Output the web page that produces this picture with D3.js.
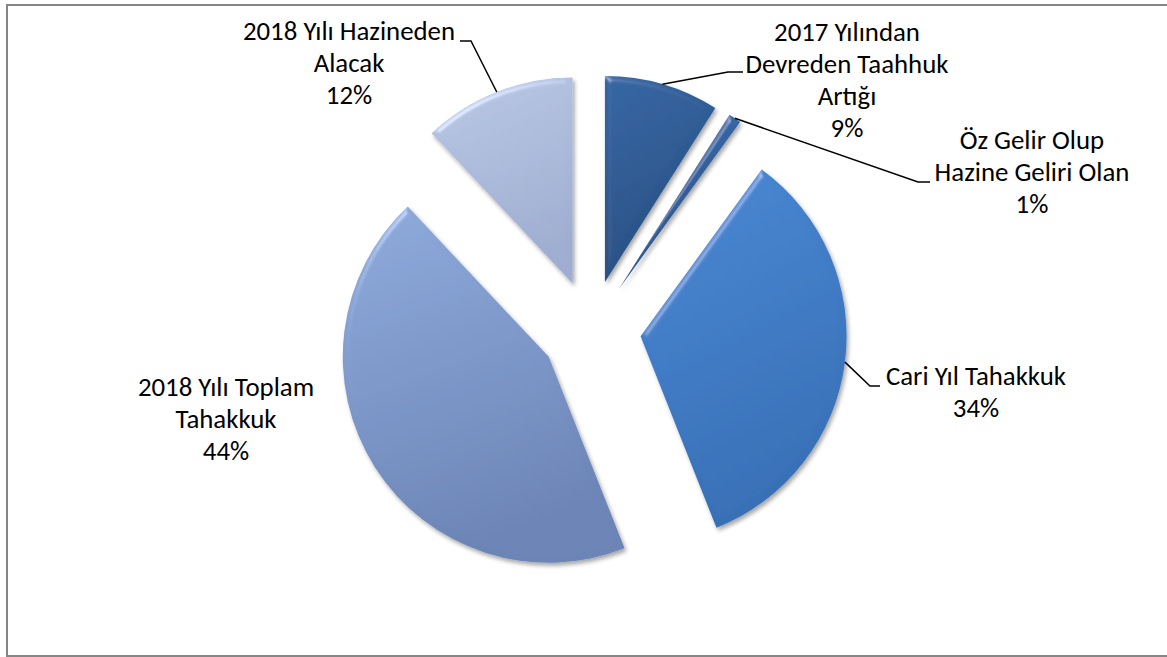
<!DOCTYPE html>
<html>
<head>
<meta charset="utf-8">
<script src="https://cdn.jsdelivr.net/npm/d3@7"></script>
<style>
  body { margin: 0; background: #fff; }
  text { font-family: Carlito, Calibri, Lato, sans-serif; fill: #000; }
</style>
</head>
<body>
<div id="app"></div>
<script>
// slice data, clockwise from 12 o'clock
var categories = [
  ["2017 Yılından", "Devreden Taahhuk", "Artığı"],
  ["Öz Gelir Olup", "Hazine Geliri Olan"],
  ["Cari Yıl Tahakkuk"],
  ["2018 Yılı Toplam", "Tahakkuk"],
  ["2018 Yılı Hazineden", "Alacak"]
];
var values = [9, 1, 34, 44, 12];
var percentLabels = ["9%", "1%", "34%", "44%", "12%"];

// fills: [top, bottom]
var colors = [
  ["#3466a4", "#294f82"],
  ["#3a6cae", "#2a5588"],
  ["#4888d5", "#3870b6"],
  ["#8eabdc", "#6c85b6"],
  ["#bac8e6", "#9faed0"]
];

// label layout: centre x, first baseline, elbow of leader (null = no leader)
var labelLayout = [
  {x: 847, y: 41, elbow: [728, 72], end: [743, 72]},
  {x: 1032, y: 149, elbow: [918, 182], end: [930, 182]},
  {x: 976, y: 385, elbow: [870, 386], end: [880, 386]},
  {x: 226, y: 396, elbow: null},
  {x: 349, y: 40, elbow: [471, 41], end: [460, 41]}
];

var width = 1167, height = 657;
var cx = 591, cy = 330, radius = 206, explode = 50, lineH = 32;

var svg = d3.select("#app").append("svg")
    .attr("width", width)
    .attr("height", height);

var defs = svg.append("defs");

colors.forEach(function(c, i) {
  var g = defs.append("linearGradient")
      .attr("id", "grad" + i)
      .attr("x1", 0).attr("y1", 0).attr("x2", 0.3).attr("y2", 1);
  g.append("stop").attr("offset", "0%").attr("stop-color", c[0]);
  g.append("stop").attr("offset", "100%").attr("stop-color", c[1]);
});

// soft bevel + shadow
var f = defs.append("filter").attr("id", "bevel")
    .attr("x", "-10%").attr("y", "-10%").attr("width", "120%").attr("height", "120%");
f.append("feGaussianBlur").attr("in", "SourceAlpha").attr("stdDeviation", 3).attr("result", "blur");
var spec = f.append("feSpecularLighting").attr("in", "blur")
    .attr("surfaceScale", 4).attr("specularConstant", 0.7)
    .attr("specularExponent", 30).attr("lighting-color", "#ffffff").attr("result", "spec");
spec.append("feDistantLight").attr("azimuth", 235).attr("elevation", 28);
f.append("feComposite").attr("in", "spec").attr("in2", "SourceAlpha").attr("operator", "in").attr("result", "specIn");
f.append("feComposite").attr("in", "SourceGraphic").attr("in2", "specIn")
    .attr("operator", "arithmetic").attr("k1", 0).attr("k2", 1).attr("k3", 0.4).attr("k4", 0).attr("result", "lit");
f.append("feGaussianBlur").attr("in", "SourceAlpha").attr("stdDeviation", 2).attr("result", "sb");
f.append("feOffset").attr("in", "sb").attr("dx", 2).attr("dy", 3).attr("result", "so");
f.append("feComponentTransfer").attr("in", "so").attr("result", "sh")
  .append("feFuncA").attr("type", "linear").attr("slope", 0.35);
var m = f.append("feMerge");
m.append("feMergeNode").attr("in", "sh");
m.append("feMergeNode").attr("in", "lit");

// frame
svg.append("rect")
    .attr("x", 7).attr("y", 5)
    .attr("width", width).attr("height", 651)
    .attr("fill", "none")
    .attr("stroke", "#868686")
    .attr("stroke-width", 2);

var pie = d3.pie().sort(null).value(function(d) { return d; });
var arcs = pie(values);

var arc = d3.arc().innerRadius(0).outerRadius(radius);

function offset(d) {
  var a = (d.startAngle + d.endAngle) / 2;
  return [cx + Math.sin(a) * explode, cy - Math.cos(a) * explode];
}

var g = svg.append("g");

g.selectAll("path.slice")
    .data(arcs)
  .enter().append("path")
    .attr("class", "slice")
    .attr("transform", function(d) { var o = offset(d); return "translate(" + o[0] + "," + o[1] + ")"; })
    .attr("d", arc)
    .attr("fill", function(d, i) { return "url(#grad" + i + ")"; })
    .attr("filter", "url(#bevel)");

// leader lines from the middle of each outer arc
arcs.forEach(function(d, i) {
  var L = labelLayout[i];
  if (!L.elbow) return;
  var o = offset(d), a = (d.startAngle + d.endAngle) / 2;
  var p0 = [o[0] + Math.sin(a) * radius, o[1] - Math.cos(a) * radius];
  svg.append("path")
      .attr("d", d3.line()([p0, L.elbow, L.end]))
      .attr("fill", "none")
      .attr("stroke", "#000")
      .attr("stroke-width", 1.5);
});

// fit font size so "Devreden Taahhuk" is about 203px wide
var probe = svg.append("text").style("font-size", "100px").text("Devreden Taahhuk");
var fontSize = 100 * 203 / probe.node().getComputedTextLength();
probe.remove();

arcs.forEach(function(d, i) {
  var L = labelLayout[i];
  var lines = categories[i].concat([percentLabels[i]]);
  var t = svg.append("text")
      .attr("text-anchor", "middle")
      .style("font-size", fontSize + "px");
  lines.forEach(function(s, k) {
    t.append("tspan").attr("x", L.x).attr("y", L.y + k * lineH).text(s);
  });
});
</script>
</body>
</html>
